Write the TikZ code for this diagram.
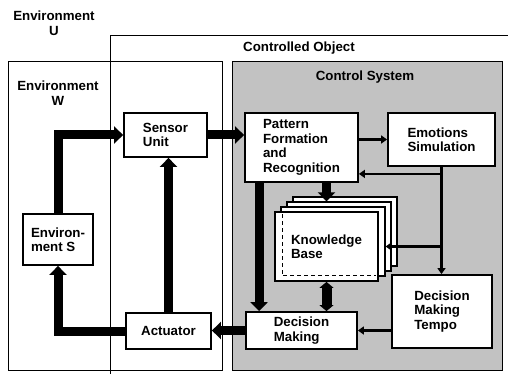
\documentclass[tikz,border=0pt]{standalone}
\usepackage{fontspec}
\setmainfont{Liberation Sans}
\usetikzlibrary{arrows.meta,positioning,calc}

\tikzset{
  blk/.style={draw, line width=1.8pt, fill=white, align=left},
  layer/.style={draw, line width=1.2pt, fill=white, minimum width=104pt, minimum height=69pt},
  fatarr/.style={line width=9pt, line join=miter, -{Triangle[length=9pt,width=17pt]}},
  dblarr/.style={line width=10pt, {Triangle[length=6pt,width=14pt]}-{Triangle[length=6pt,width=14pt]}},
  medarr/.style={line width=2.5pt, -{Triangle[length=6pt,width=8pt]}},
}

\begin{document}
\begin{tikzpicture}[x=1pt, y=-1pt,
    every node/.style={font=\fontsize{13.3}{14.5}\selectfont\bfseries}]
  \useasboundingbox (0,0) rectangle (508,374);

  % frames
  \draw[line width=0.8pt] (110,374) -- (110,35) -- (508,35);
  \draw[line width=0.8pt] (8,61) rectangle (222,370);
  \draw[line width=0.8pt, fill=black!24] (232,61) rectangle (502,370);

  % frame labels
  \node[align=center] (envU) at (54,23) {Environment\\U};
  \node[align=center] (envW) at (58,93) {Environment\\W};
  \node (objlbl) at (299,48) {Controlled Object};
  \node (syslbl) at (365,77) {Control System};

  % blocks
  \node[blk, minimum width=83pt, minimum height=44pt] (sensor) at (165.5,135) {Sensor\\Unit};
  \node[blk, minimum width=113pt, minimum height=69pt] (pattern) at (301.5,147.5) {Pattern\\Formation\\and\\Recognition};
  \node[blk, minimum width=107pt, minimum height=53pt] (emo) at (441.5,139.5) {Emotions\\Simulation};
  \node[layer] (kb3) at (345,231.5) {};
  \node[layer] (kb2) at (339,236.5) {};
  \node[layer] (kb1) at (333,241.5) {};
  \node[blk, minimum width=103pt, minimum height=69pt] (kb) at (326.5,246.5) {Knowledge\\Base};
  \draw[line width=1pt, dash pattern=on 4pt off 3pt]
    ([xshift=8pt,yshift=-3pt]kb.north west) |- ([xshift=-3pt,yshift=6pt]kb.south east);
  \node[blk, minimum width=111pt, minimum height=37pt] (dm) at (301.5,330.5) {Decision\\Making};
  \node[blk, minimum width=100pt, minimum height=73pt] (dmt) at (442,311.5) {Decision\\Making\\Tempo};
  \node[blk, minimum width=85pt, minimum height=36pt] (act) at (168.5,331) {Actuator};
  \node[blk, minimum width=70pt, minimum height=51pt] (envs) at (58,239.5) {Environ-\\ment S};

  % thick flows
  \draw[fatarr] (envs.north) |- (sensor.west);
  \draw[fatarr] (act.west) -| (envs.south);
  \draw[fatarr] (act.north) -- (act.north |- sensor.south);
  \draw[fatarr] (sensor.east) -- (sensor.east -| pattern.west);
  \draw[fatarr] (dm.west) -- (dm.west -| act.east);
  \draw[fatarr] ([xshift=15pt]pattern.south west) -- ([xshift=14pt]dm.north west);
  \draw[fatarr] (pattern.south -| kb.north) -- (kb2.north -| kb.north);
  \draw[dblarr] (kb.south) -- (kb.south |- dm.north);

  % thin flows
  \draw[medarr] (pattern.east |- emo.west) -- (emo.west);
  \draw[medarr] (emo.south) -- (emo.south |- dmt.north);
  \coordinate (j1) at ($(emo.south)+(0,7)$);
  \coordinate (j2) at (emo.south |- kb.east);
  \draw[medarr] (j1) -- (j1 -| pattern.east);
  \draw[medarr] (j2) -- (j2 -| kb1.east);
  \draw[medarr] (dmt.west |- dm.east) -- (dm.east);
\end{tikzpicture}
\end{document}
